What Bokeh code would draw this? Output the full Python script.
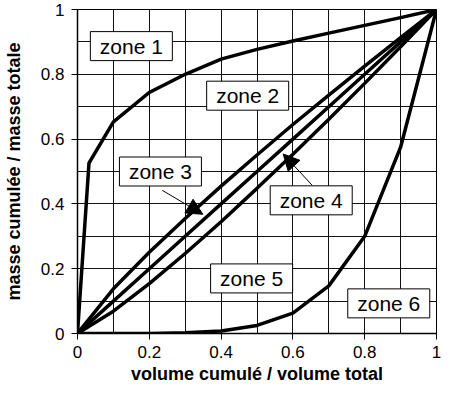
from bokeh.plotting import figure
from bokeh.models import Range1d, FixedTicker, Arrow, NormalHead
from bokeh.core.properties import value
from bokeh.embed import file_html
from bokeh.resources import INLINE

# ---- data ----
x_vals = [0, 0.1, 0.2, 0.3, 0.4, 0.5, 0.6, 0.7, 0.8, 0.9, 1.0]

zone1_x = [0, 0.032, 0.1, 0.2, 0.3, 0.4, 0.5, 0.6, 0.7, 0.8, 0.9, 1.0]
zone1_y = [0, 0.526, 0.653, 0.744, 0.800, 0.847, 0.877, 0.903, 0.927, 0.951, 0.975, 1.0]

upper_y = [0, 0.138, 0.251, 0.355, 0.455, 0.551, 0.645, 0.736, 0.825, 0.913, 1.0]
middle_y = [0, 0.1, 0.2, 0.3, 0.4, 0.5, 0.6, 0.7, 0.8, 0.9, 1.0]
lower_y = [0, 0.069, 0.154, 0.247, 0.345, 0.448, 0.553, 0.661, 0.772, 0.885, 1.0]
zone6_y = [0, 0.0, 0.0, 0.002, 0.008, 0.025, 0.063, 0.147, 0.300, 0.575, 1.0]

zone_names = ["zone 1", "zone 2", "zone 3", "zone 4", "zone 5", "zone 6"]
zone_x = [0.150, 0.474, 0.231, 0.651, 0.485, 0.867]
zone_y = [0.887, 0.734, 0.500, 0.411, 0.170, 0.093]

tick_vals = [0, 0.2, 0.4, 0.6, 0.8, 1.0]
tick_labels = ["0", "0.2", "0.4", "0.6", "0.8", "1"]
grid_vals = [0, 0.1, 0.2, 0.3, 0.4, 0.5, 0.6, 0.7, 0.8, 0.9, 1.0]

x_title = "volume cumulé / volume total"
y_title = "masse cumulée / masse totale"

FONT = "Liberation Sans"

p = figure(width=441, height=387, output_backend="svg", toolbar_location=None,
           x_range=Range1d(0, 1), y_range=Range1d(0, 1),
           min_border_left=77, min_border_right=5, min_border_top=9, min_border_bottom=54)
p.background_fill_color = "white"
p.border_fill_color = "white"
p.outline_line_color = "black"
p.outline_line_width = 1

for ax in (p.xaxis[0], p.yaxis[0]):
    ax.ticker = FixedTicker(ticks=tick_vals)
    ax.major_label_overrides = {v: t for v, t in zip(tick_vals, tick_labels)}
    ax.major_tick_out = 6
    ax.major_tick_in = 0
    ax.minor_tick_line_color = None
    ax.major_tick_line_color = "black"
    ax.axis_line_color = "black"
    ax.axis_line_width = 1.5
    ax.major_label_text_font = FONT
    ax.major_label_text_font_size = "17px"
    ax.major_label_text_color = "black"
    ax.axis_label_text_font = FONT
    ax.axis_label_text_font_size = "18px"
    ax.axis_label_text_font_style = "bold"
    ax.axis_label_text_color = "black"

p.xaxis.axis_label = x_title
p.yaxis.axis_label = y_title
p.xaxis.major_label_standoff = 6
p.yaxis.major_label_standoff = 7
p.xaxis.axis_label_standoff = 3
p.yaxis.axis_label_standoff = 14

for g in (p.xgrid[0], p.ygrid[0]):
    g.ticker = FixedTicker(ticks=grid_vals)
    g.grid_line_color = "#111111"
    g.grid_line_width = 1
    g.grid_line_alpha = 1

LW = 3.5
p.line(zone1_x, zone1_y, line_color="black", line_width=LW, line_join="miter")
p.line(x_vals, upper_y, line_color="black", line_width=LW)
p.line(x_vals, middle_y, line_color="black", line_width=LW)
p.line(x_vals, lower_y, line_color="black", line_width=LW)
p.line(x_vals, zone6_y, line_color="black", line_width=LW)

# arrows for zone 3 and zone 4
p.add_layout(Arrow(end=NormalHead(size=16, fill_color="black", line_color="black"),
                   x_start=0.236, y_start=0.442, x_end=0.349, y_end=0.368,
                   line_color="black", line_width=1))
p.add_layout(Arrow(end=NormalHead(size=16, fill_color="black", line_color="black"),
                   x_start=0.654, y_start=0.457, x_end=0.573, y_end=0.554,
                   line_color="black", line_width=1))

# zone label boxes
p.rect(x=zone_x, y=zone_y, width=82, height=29, width_units="screen", height_units="screen",
       fill_color="white", line_color="black", line_width=1)
p.text(x=zone_x, y=zone_y, text=zone_names, text_font=value(FONT), text_font_size="21px",
       text_color="black", text_align="center", text_baseline="middle")

open("out.html", "w").write(file_html(p, INLINE))
